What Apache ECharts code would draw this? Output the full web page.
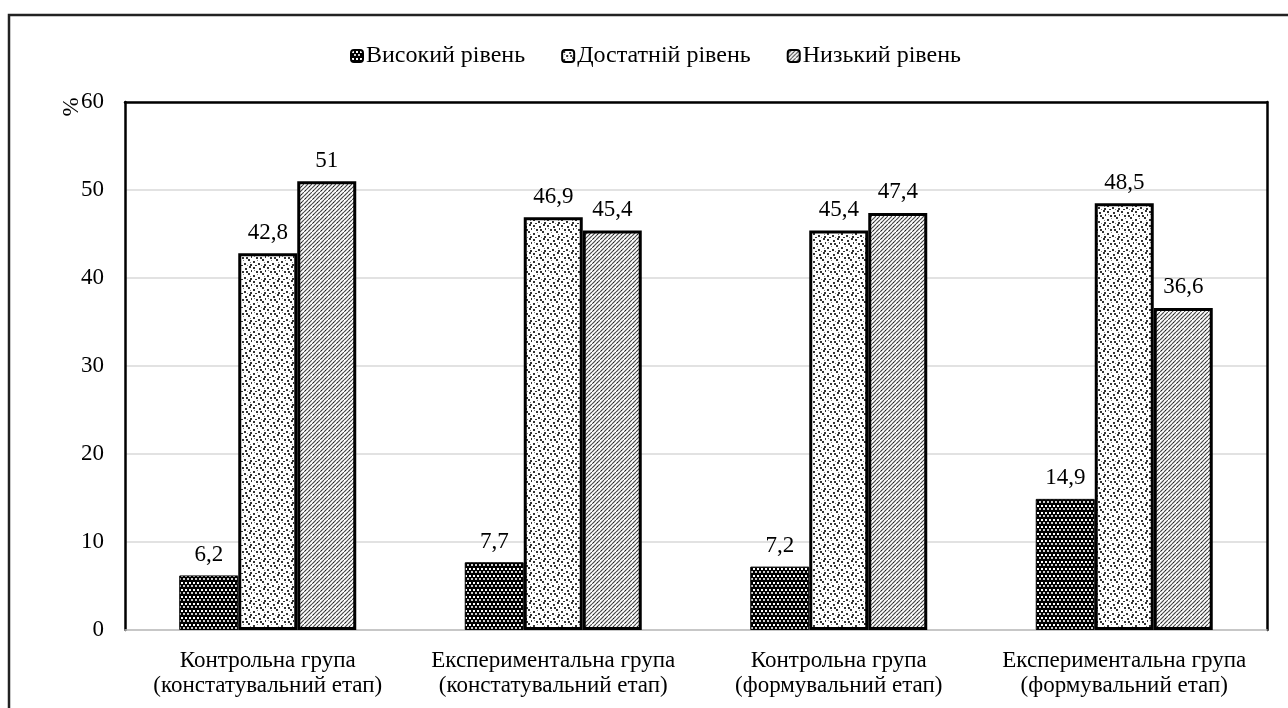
<!DOCTYPE html>
<html>
<head>
<meta charset="utf-8">
<script src="https://cdn.jsdelivr.net/npm/echarts@6/dist/echarts.min.js"></script>
<style>
  html, body { margin: 0; padding: 0; background: #fff; }
  #chart { width: 1288px; height: 708px; }
</style>
</head>
<body>
<div id="chart"></div>
<script>
// Groups and level shares (%)
const categories = [
  'Контрольна група\n(констатувальний етап)',
  'Експериментальна група\n(констатувальний етап)',
  'Контрольна група\n(формувальний етап)',
  'Експериментальна група\n(формувальний етап)'
];
const seriesNames = ['Високий рівень', 'Достатній рівень', 'Низький рівень'];
const highLevel = [6.2, 7.7, 7.2, 14.9];
const sufficientLevel = [42.8, 46.9, 45.4, 48.5];
const lowLevel = [51, 45.4, 47.4, 36.6];
const yTicks = [0, 10, 20, 30, 40, 50, 60];

const FONT = '"Liberation Serif", "DejaVu Serif", serif';

// Fill textures for the three levels
function makeTile(w, h, draw) {
  const c = document.createElement('canvas');
  c.width = w; c.height = h;
  draw(c.getContext('2d'), w, h);
  return c;
}
const darkTile = makeTile(8, 7, (g, w, h) => {
  g.fillStyle = '#000'; g.fillRect(0, 0, w, h);
  g.fillStyle = '#fff';
  g.fillRect(1, 1, 2, 2); g.fillRect(5, 1, 2, 2);
  g.fillStyle = '#ccc';
  g.fillRect(3, 4, 2, 2); g.fillRect(7, 4, 1, 2); g.fillRect(0, 4, 1, 2);
});
const dotTile = makeTile(14, 14, (g, w, h) => {
  g.fillStyle = '#fff'; g.fillRect(0, 0, w, h);
  g.fillStyle = '#333';
  const pts = [[1,1],[7,2],[11,0],[4,5],[10,7],[1,9],[6,11],[12,12],[8,5],[3,13],[13,4]];
  pts.forEach(p => g.fillRect(p[0], p[1], 2, 2));
  g.fillStyle = '#888';
  [[5,8],[12,10],[9,13],[2,4]].forEach(p => g.fillRect(p[0], p[1], 1, 1));
});
const hatchTile = makeTile(8, 8, (g, w, h) => {
  g.fillStyle = '#fff'; g.fillRect(0, 0, w, h);
  g.strokeStyle = '#4a4a4a'; g.lineWidth = 1.1;
  g.beginPath();
  g.moveTo(0, 4); g.lineTo(4, 0);
  g.moveTo(0, 8); g.lineTo(8, 0);
  g.moveTo(4, 8); g.lineTo(8, 4);
  g.stroke();
  g.fillStyle = '#222';
  g.fillRect(1, 6, 1, 1); g.fillRect(5, 2, 1, 1);
});

const fmt = p => String(p.value).replace('.', ',');
const labelCfg = {
  show: true, position: 'top', distance: 9,
  fontFamily: FONT, fontSize: 23, color: '#000', formatter: fmt
};

function barSeries(name, data, tile, borderWidth) {
  return {
    name: name, type: 'bar', data: data,
    barWidth: 59, barGap: '0%',
    itemStyle: {
      color: { image: tile, repeat: 'repeat' },
      borderColor: '#000', borderWidth: borderWidth
    },
    label: labelCfg,
    emphasis: { disabled: true }
  };
}

const chart = echarts.init(document.getElementById('chart'), null, { renderer: 'canvas' });
chart.setOption({
  animation: false,
  backgroundColor: '#fff',
  graphic: [{
    type: 'rect', z: 100, silent: true,
    shape: { x: 9, y: 15, width: 1300, height: 720 },
    style: { fill: 'none', stroke: '#222', lineWidth: 2.5 }
  }, {
    // y-axis title
    type: 'text', silent: true,
    x: 72, y: 107, rotation: Math.PI / 2,
    style: {
      text: '%', fontFamily: FONT, fontSize: 23, fill: '#000',
      align: 'center', verticalAlign: 'middle'
    }
  }],
  legend: {
    top: 39, left: 345,
    itemWidth: 12, itemHeight: 12, itemGap: 36,
    textStyle: { fontFamily: FONT, fontSize: 24, color: '#000', padding: [0, 0, 0, -2] },
    data: seriesNames
  },
  grid: { left: 125, right: 21, top: 102, bottom: 78 },
  xAxis: [{
    type: 'category', data: categories, position: 'bottom',
    axisLine: { onZero: false, lineStyle: { color: '#bfbfbf', width: 1.5 } },
    axisTick: { show: false },
    axisLabel: { fontFamily: FONT, fontSize: 23, color: '#000', lineHeight: 25, margin: 18, interval: 0 }
  }, {
    type: 'category', data: categories, position: 'top',
    axisLine: { onZero: false, lineStyle: { color: '#000', width: 2.5 } },
    axisTick: { show: false }, axisLabel: { show: false }
  }],
  yAxis: [{
    type: 'value', min: 0, max: 60, interval: 10,
    axisLine: { show: true, lineStyle: { color: '#000', width: 2.5 } },
    axisTick: { show: false },
    axisLabel: {
      fontFamily: FONT, fontSize: 23, color: '#000', margin: 21,
      formatter: v => (yTicks.indexOf(v) >= 0 ? String(v) : '')
    },
    splitLine: { lineStyle: { color: '#d9d9d9', width: 1.5 } }
  }, {
    type: 'value', min: 0, max: 60, interval: 10, position: 'right',
    axisLine: { show: true, lineStyle: { color: '#000', width: 2.5 } },
    axisTick: { show: false }, axisLabel: { show: false }, splitLine: { show: false }
  }],
  series: [
    barSeries(seriesNames[0], highLevel, darkTile, 1),
    barSeries(seriesNames[1], sufficientLevel, dotTile, 3),
    barSeries(seriesNames[2], lowLevel, hatchTile, 3)
  ]
});
</script>
</body>
</html>
